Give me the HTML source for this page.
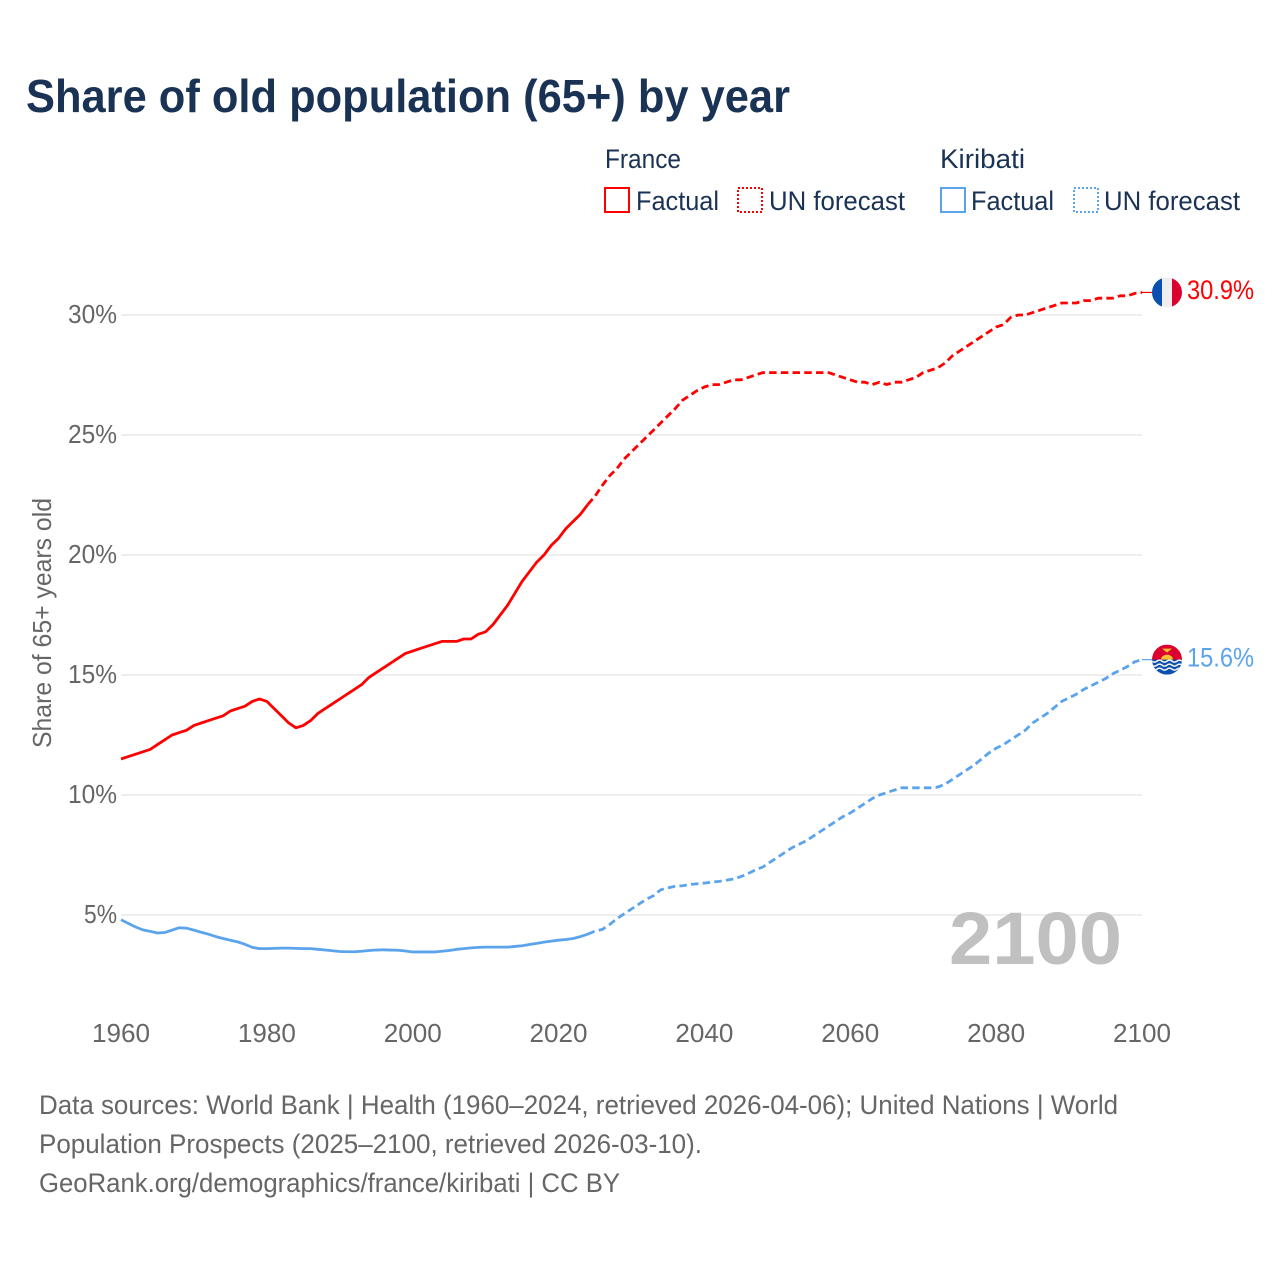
<!DOCTYPE html>
<html lang="en">
<head>
<meta charset="utf-8">
<title>Share of old population (65+) by year</title>
<style>
html,body{margin:0;padding:0;background:#fff;}
svg{display:block;font-family:"Liberation Sans",sans-serif;}
.lg{fill:#1a3355;font-size:27px;}
.tick{fill:#666;font-size:26px;}
.foot{fill:#666;font-size:27px;}
</style>
</head>
<body>
<svg id="chart" xmlns="http://www.w3.org/2000/svg" width="1280" height="1280" viewBox="0 0 1280 1280">
  <rect width="1280" height="1280" fill="#fff"/>
  <text x="26" y="112" font-size="46" font-weight="700" fill="#1a3355" textLength="764" lengthAdjust="spacingAndGlyphs">Share of old population (65+) by year</text>

  <g>
    <text class="lg" x="605" y="168" textLength="76" lengthAdjust="spacingAndGlyphs">France</text>
    <rect x="605" y="188" width="24" height="24" fill="none" stroke="#ff0000" stroke-width="2"/>
    <text class="lg" x="636" y="210" textLength="83" lengthAdjust="spacingAndGlyphs">Factual</text>
    <rect x="738" y="188" width="24" height="24" fill="none" stroke="#ff0000" stroke-width="2" stroke-dasharray="2 2"/>
    <text class="lg" x="769" y="210" textLength="136" lengthAdjust="spacingAndGlyphs">UN forecast</text>
    <text class="lg" x="940" y="168" textLength="85" lengthAdjust="spacingAndGlyphs">Kiribati</text>
    <rect x="941" y="188" width="24" height="24" fill="none" stroke="#5ba4ec" stroke-width="2"/>
    <text class="lg" x="971" y="210" textLength="83" lengthAdjust="spacingAndGlyphs">Factual</text>
    <rect x="1074" y="188" width="24" height="24" fill="none" stroke="#5ba4ec" stroke-width="2" stroke-dasharray="2 2"/>
    <text class="lg" x="1104" y="210" textLength="136" lengthAdjust="spacingAndGlyphs">UN forecast</text>
  </g>

  <g id="grid"></g>
  <g id="yticks"></g>
  <g id="xticks"></g>
  <text transform="translate(51,748) rotate(-90)" font-size="26" fill="#666" textLength="250" lengthAdjust="spacingAndGlyphs">Share of 65+ years old</text>

  <text x="949" y="964" font-size="74" font-weight="700" fill="#c0c0c0" textLength="173" lengthAdjust="spacingAndGlyphs">2100</text>

  <g id="series"></g>

  <g id="flag-france"></g>
  <g id="flag-kiribati"></g>

  <g>
    <text class="foot" x="39" y="1114" textLength="1079" lengthAdjust="spacingAndGlyphs">Data sources: World Bank | Health (1960–2024, retrieved 2026-04-06); United Nations | World</text>
    <text class="foot" x="39" y="1153" textLength="663" lengthAdjust="spacingAndGlyphs">Population Prospects (2025–2100, retrieved 2026-03-10).</text>
    <text class="foot" x="39" y="1192" textLength="581" lengthAdjust="spacingAndGlyphs">GeoRank.org/demographics/france/kiribati | CC BY</text>
  </g>
</svg>
<script>
const yTickValues = [5, 10, 15, 20, 25, 30];
const xTickYears = [1960, 1980, 2000, 2020, 2040, 2060, 2080, 2100];
const factualStartYear = 1960;
const forecastStartYear = 2024;
const franceFactual = [
  11.5,11.6,11.7,11.8,11.9,12.1,12.3,12.5,12.6,12.7,
  12.9,13.0,13.1,13.2,13.3,13.5,13.6,13.7,13.9,14.0,
  13.9,13.6,13.3,13.0,12.8,12.9,13.1,13.4,13.6,13.8,
  14.0,14.2,14.4,14.6,14.9,15.1,15.3,15.5,15.7,15.9,
  16.0,16.1,16.2,16.3,16.4,16.4,16.4,16.5,16.5,16.7,
  16.8,17.1,17.5,17.9,18.4,18.9,19.3,19.7,20.0,20.4,
  20.7,21.1,21.4,21.7,22.1];
const franceForecast = [
  22.1,
  22.45,22.9,23.3,23.6,24.0,
  24.3,24.6,24.9,25.2,25.5,25.8,26.1,26.45,26.65,26.85,
  27.0,27.1,27.1,27.2,27.3,27.3,27.4,27.5,27.6,27.6,
  27.6,27.6,27.6,27.6,27.6,27.6,27.6,27.6,27.5,27.4,
  27.3,27.2,27.2,27.1,27.2,27.1,27.2,27.2,27.3,27.4,
  27.6,27.7,27.8,28.0,28.3,28.5,28.7,28.9,29.1,29.3,
  29.5,29.6,29.9,30.0,30.0,30.1,30.2,30.3,30.4,30.5,
  30.5,30.5,30.6,30.6,30.7,30.7,30.7,30.8,30.8,30.9,30.94];
const kiribatiFactual = [
  4.8,4.65,4.5,4.38,4.32,4.25,4.27,4.37,4.47,4.45,
  4.37,4.28,4.2,4.1,4.02,3.95,3.88,3.78,3.65,3.6,
  3.6,3.61,3.62,3.62,3.61,3.6,3.6,3.57,3.54,3.51,
  3.48,3.47,3.47,3.49,3.52,3.54,3.55,3.54,3.53,3.5,
  3.46,3.46,3.46,3.46,3.49,3.52,3.57,3.6,3.63,3.65,
  3.66,3.66,3.66,3.66,3.69,3.72,3.77,3.82,3.87,3.91,
  3.95,3.98,4.02,4.1,4.2];
const kiribatiForecast = [
  4.2,
  4.33,4.4,4.6,4.85,5.05,
  5.25,5.45,5.65,5.8,6.05,6.13,6.2,6.22,6.27,6.3,
  6.33,6.37,6.4,6.45,6.5,6.6,6.73,6.88,7.0,7.2,
  7.4,7.6,7.8,7.95,8.1,8.3,8.5,8.7,8.9,9.1,
  9.25,9.45,9.65,9.85,10.0,10.1,10.2,10.3,10.3,10.3,
  10.3,10.3,10.33,10.45,10.65,10.85,11.05,11.25,11.5,11.75,
  11.95,12.1,12.3,12.5,12.7,13.0,13.2,13.4,13.65,13.9,
  14.05,14.2,14.4,14.55,14.7,14.85,15.05,15.2,15.35,15.55,15.64];

const NS = 'http://www.w3.org/2000/svg';
const xScale = year => 121 + (year - 1960) * (1142 - 121) / 140;
const yScale = pct => 1035 - 24 * pct;

function make(parent, tag, attrs, text) {
  const el = document.createElementNS(NS, tag);
  for (const k in attrs) el.setAttribute(k, attrs[k]);
  if (text !== undefined) el.textContent = text;
  parent.appendChild(el);
  return el;
}
function linePath(values, startYear) {
  return values.map((v, i) => (i ? 'L' : 'M') + xScale(startYear + i).toFixed(2) + ' ' + yScale(v).toFixed(2)).join('');
}

const gridG = document.getElementById('grid');
const yG = document.getElementById('yticks');
yTickValues.forEach(v => {
  const ln = make(gridG, 'line', {x1: 121, x2: 1142, y1: yScale(v), y2: yScale(v), stroke: '#eeeeee', 'stroke-width': 2});
  
  
  const t = make(yG, 'text', {class: 'tick', x: 117, y: yScale(v) + 8, 'text-anchor': 'end', textLength: v < 10 ? 33 : 49, lengthAdjust: 'spacingAndGlyphs'}, v + '%');
  
  
});

const xG = document.getElementById('xticks');
xTickYears.forEach(y => {
  const t = make(xG, 'text', {class: 'tick', x: xScale(y), y: 1042, 'text-anchor': 'middle', textLength: 58, lengthAdjust: 'spacingAndGlyphs'}, String(y));
  
  
});

const seriesG = document.getElementById('series');
function drawSeries(name, color, factual, forecast) {
  const a = make(seriesG, 'path', {d: linePath(factual, factualStartYear), fill: 'none', stroke: color, 'stroke-width': 2.8, 'stroke-linejoin': 'round'});
  
  
  const b = make(seriesG, 'path', {d: linePath(forecast, forecastStartYear), fill: 'none', stroke: color, 'stroke-width': 2.8, 'stroke-dasharray': '7.5 4.2', 'stroke-linejoin': 'round'});
  
  
  const last = forecast[forecast.length - 1];
  const c = make(seriesG, 'line', {x1: xScale(2100), x2: 1155, y1: yScale(last), y2: yScale(last), stroke: color, 'stroke-width': 1.2});
  
  
  const lbl = make(seriesG, 'text', {x: 1187, y: yScale(last) + 6.8, 'font-size': 26.5, fill: color, textLength: 67, lengthAdjust: 'spacingAndGlyphs'}, last.toFixed(1) + '%');
  
  
}
drawSeries('france', '#ff0000', franceFactual, franceForecast);
drawSeries('kiribati', '#5ba4ec', kiribatiFactual, kiribatiForecast);

const frY = yScale(franceForecast[franceForecast.length - 1]);
const kiY = yScale(kiribatiForecast[kiribatiForecast.length - 1]);
const cx = 1167, r = 15;

const fr = document.getElementById('flag-france');
const frDefs = make(fr, 'clipPath', {id: 'clip-fr'});
make(frDefs, 'circle', {cx: cx, cy: frY, r: r});
const frBody = make(fr, 'g', {'clip-path': 'url(#clip-fr)'});
make(frBody, 'rect', {x: cx - r, y: frY - r, width: 10, height: 30, fill: '#0a50b0'});
make(frBody, 'rect', {x: cx - 5, y: frY - r, width: 10, height: 30, fill: '#eeeeee'});
make(frBody, 'rect', {x: cx + 5, y: frY - r, width: 10, height: 30, fill: '#dc002e'});

const ki = document.getElementById('flag-kiribati');
const kiDefs = make(ki, 'clipPath', {id: 'clip-ki'});
make(kiDefs, 'circle', {cx: cx, cy: kiY, r: r});
const kiBody = make(ki, 'g', {'clip-path': 'url(#clip-ki)'});
make(kiBody, 'rect', {x: cx - r, y: kiY - r, width: 30, height: 16, fill: '#dc002e'});
make(kiBody, 'path', {d: `M${cx-6} ${kiY}A6 5 0 0 1 ${cx+6} ${kiY}Z`, fill: '#f7c230'});
make(kiBody, 'path', {d: `M${cx-5} ${kiY-11}L${cx+5} ${kiY-11}L${cx} ${kiY-7}Z`, fill: '#f7c230'});
make(kiBody, 'rect', {x: cx - r, y: kiY, width: 30, height: 15, fill: '#0b50ad'});
[1.5, 5.5, 9.5].forEach(d => {
  const w = 'M' + (cx - r) + ' ' + (kiY + d) + ' q2.5 2 5 0 t5 0 t5 0 t5 0 t5 0 t5 0';
  make(kiBody, 'path', {d: w, fill: 'none', stroke: '#f2f2f2', 'stroke-width': 1.5});
});
</script>
</body>
</html>
